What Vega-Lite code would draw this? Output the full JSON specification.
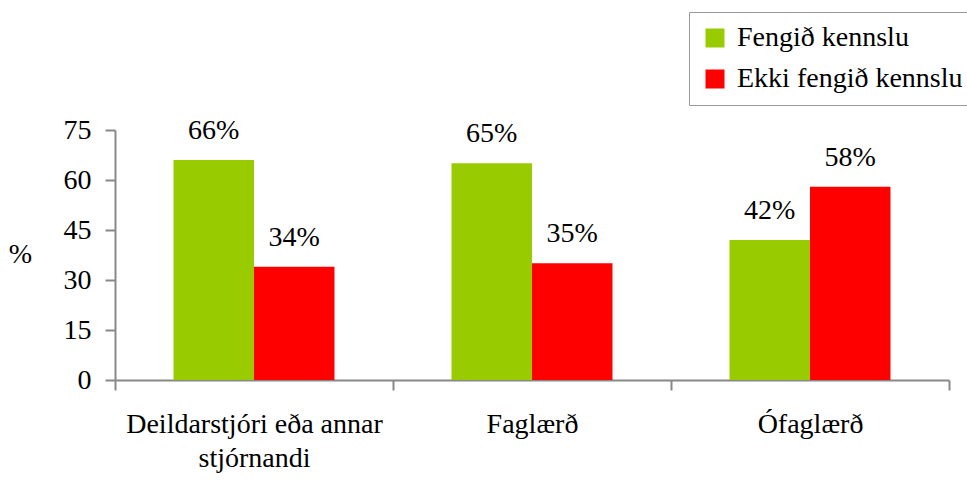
{
  "$schema": "https://vega.github.io/schema/vega-lite/v6.json",
  "autosize": "none",
  "width": 834,
  "height": 250,
  "padding": {"left": 115, "top": 130, "right": 18, "bottom": 102},
  "background": "white",
  "config": {
    "font": "Times New Roman",
    "view": {"stroke": null}
  },
  "data": {
    "values": [
      {"group": "Deildarstjóri eða annar stjórnandi", "series": "Fengið kennslu", "value": 66, "label": "66%"},
      {"group": "Deildarstjóri eða annar stjórnandi", "series": "Ekki fengið kennslu", "value": 34, "label": "34%"},
      {"group": "Faglærð", "series": "Fengið kennslu", "value": 65, "label": "65%"},
      {"group": "Faglærð", "series": "Ekki fengið kennslu", "value": 35, "label": "35%"},
      {"group": "Ófaglærð", "series": "Fengið kennslu", "value": 42, "label": "42%"},
      {"group": "Ófaglærð", "series": "Ekki fengið kennslu", "value": 58, "label": "58%"}
    ]
  },
  "encoding": {
    "x": {
      "field": "group",
      "type": "nominal",
      "sort": null,
      "scale": {"paddingInner": 0, "paddingOuter": 0},
      "axis": {
        "title": null,
        "labelAngle": 0,
        "labelFont": "Times New Roman",
        "labelFontSize": 28,
        "labelColor": "black",
        "labelPadding": 20,
        "labelLineHeight": 34,
        "labelLimit": 500,
        "labelExpr": "datum.label == 'Deildarstjóri eða annar stjórnandi' ? ['Deildarstjóri eða annar', 'stjórnandi'] : datum.label",
        "tickBand": "extent",
        "tickSize": 10,
        "tickColor": "#888888",
        "domainColor": "#888888",
        "tickWidth": 2,
        "domainWidth": 2
      }
    },
    "xOffset": {
      "field": "series",
      "type": "nominal",
      "sort": ["Fengið kennslu", "Ekki fengið kennslu"],
      "scale": {"paddingInner": 0, "paddingOuter": 0.727}
    },
    "y": {
      "field": "value",
      "type": "quantitative",
      "scale": {"domain": [0, 75], "nice": false},
      "axis": {
        "values": [0, 15, 30, 45, 60, 75],
        "grid": false,
        "title": "%",
        "titleAngle": 0,
        "titleFont": "Times New Roman",
        "titleFontSize": 28,
        "titleFontWeight": "normal",
        "titleX": -95,
        "titleY": 138,
        "titleAlign": "center",
        "labelFont": "Times New Roman",
        "labelFontSize": 28,
        "labelColor": "black",
        "labelPadding": 14,
        "tickSize": 10,
        "tickColor": "#888888",
        "domainColor": "#888888",
        "tickWidth": 2,
        "domainWidth": 2
      }
    }
  },
  "layer": [
    {
      "mark": {"type": "bar"},
      "encoding": {
        "color": {
          "field": "series",
          "type": "nominal",
          "sort": ["Fengið kennslu", "Ekki fengið kennslu"],
          "scale": {"domain": ["Fengið kennslu", "Ekki fengið kennslu"], "range": ["#99CC00", "#FF0000"]},
          "legend": {
            "title": null,
            "orient": "none",
            "legendX": 574,
            "legendY": -118,
            "symbolType": "square",
            "symbolSize": 361,
            "symbolStrokeWidth": 0,
            "symbolOpacity": 1,
            "labelFont": "Times New Roman",
            "labelFontSize": 28,
            "labelColor": "black",
            "labelLimit": 400,
            "labelOffset": 8,
            "rowPadding": 13,
            "padding": 12,
            "strokeColor": "#999999",
            "fillColor": "white",
            "offset": 0
          }
        }
      }
    },
    {
      "mark": {"type": "text", "baseline": "alphabetic", "dy": -21, "fontSize": 28, "font": "Times New Roman", "color": "black"},
      "encoding": {
        "text": {"field": "label"}
      }
    }
  ]
}
